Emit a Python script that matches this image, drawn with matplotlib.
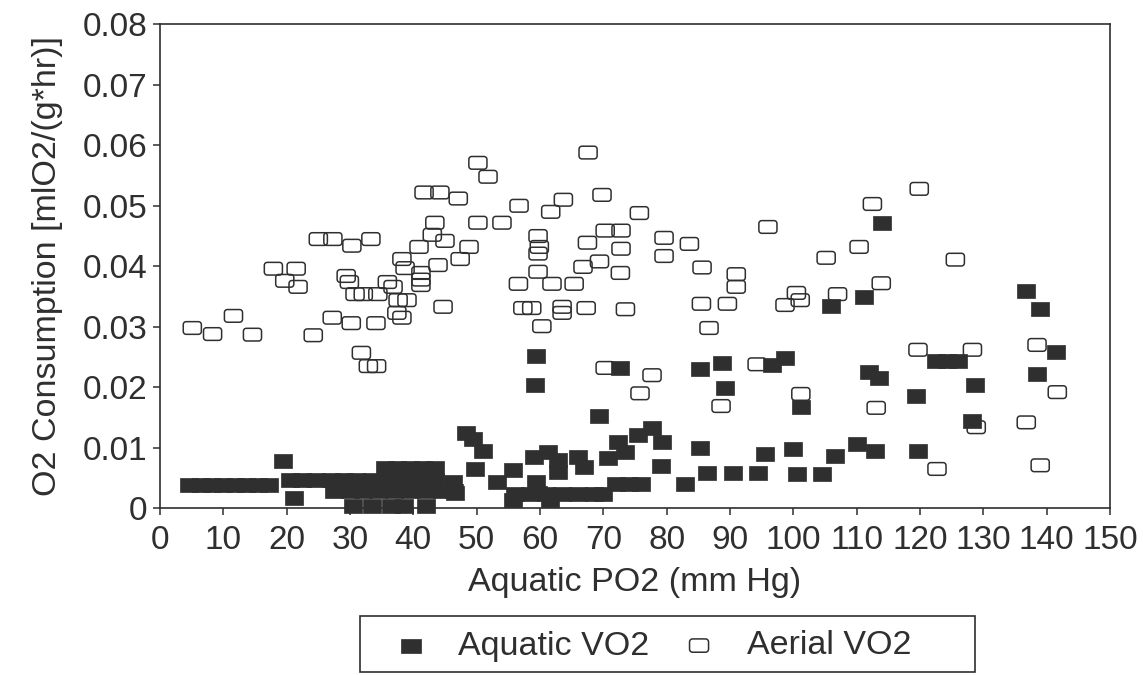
import numpy as np
import matplotlib.pyplot as plt
from matplotlib.path import Path
from matplotlib.patches import Rectangle

plt.rcParams['font.family'] = ['Liberation Sans', 'DejaVu Sans']

# Aquatic VO2 (filled squares)
aquatic_po2 = [4.6, 6.4, 8.2, 10.0, 11.8, 13.6, 15.4, 17.2,
               19.4, 21.2,
               20.5, 22.5, 24.6, 27.0, 29.0, 31.0, 33.5, 36.0, 38.5, 41.0, 43.5,
               35.5, 37.5, 39.5, 41.5, 43.5,
               27.5, 30.0, 32.0, 34.5, 37.0, 39.5, 42.0, 44.5, 46.5,
               30.5, 33.5, 36.5, 38.5, 42.0,
               46.3, 46.6, 48.3, 49.4, 51.0, 49.8,
               53.2, 55.8, 55.8, 59.0, 59.4, 59.7, 61.3, 62.9, 62.9, 61.6,
               56.0, 58.5, 61.0, 63.5, 66.0, 68.5, 70.0,
               66.0, 67.0, 70.8, 72.3, 73.5, 75.5, 77.7, 79.3, 79.1,
               72.0, 74.0, 76.0, 82.9, 85.2, 86.4, 90.5, 94.5, 95.6,
               59.4, 59.2, 72.7, 69.4, 85.3, 88.8, 89.3,
               96.7, 98.7, 101.2, 112.0, 113.6, 119.4, 122.5, 124.3, 126.0,
               128.7, 128.3, 141.5, 138.5, 119.7, 100.0, 100.6, 104.6, 106.6,
               110.1, 112.9,
               114.0, 111.1, 106.0, 136.8, 139.0]
aquatic_vo2 = [0.0039, 0.0039, 0.0039, 0.0039, 0.0039, 0.0039, 0.0039, 0.0039,
               0.0078, 0.0017,
               0.0047, 0.0047, 0.0047, 0.0047, 0.0047, 0.0047, 0.0047, 0.0047, 0.0047, 0.0047, 0.0047,
               0.0066, 0.0066, 0.0066, 0.0066, 0.0066,
               0.0028, 0.0028, 0.0028, 0.0028, 0.0028, 0.0028, 0.0028, 0.0028, 0.0028,
               0.0003, 0.0003, 0.0003, 0.0003, 0.0003,
               0.0043, 0.0025, 0.0124, 0.0114, 0.0094, 0.0065,
               0.0043, 0.0063, 0.0013, 0.0084, 0.0043, 0.0026, 0.0093, 0.0080, 0.0060, 0.0013,
               0.0023, 0.0023, 0.0023, 0.0023, 0.0023, 0.0023, 0.0023,
               0.0085, 0.0068, 0.0083, 0.0109, 0.0093, 0.0121, 0.0132, 0.0110, 0.0070,
               0.0040, 0.0040, 0.0040, 0.0040, 0.0099, 0.0058, 0.0058, 0.0058, 0.0090,
               0.0252, 0.0204, 0.0232, 0.0152, 0.0230, 0.0240, 0.0199,
               0.0237, 0.0248, 0.0167, 0.0225, 0.0215, 0.0185, 0.0243, 0.0243, 0.0243,
               0.0204, 0.0144, 0.0258, 0.0222, 0.0094, 0.0098, 0.0056, 0.0056, 0.0086,
               0.0106, 0.0095,
               0.0472, 0.0350, 0.0335, 0.0359, 0.0329]

# Aerial VO2 (open squares)
aerial_po2 = [5.1, 8.3, 11.6, 14.6, 17.9, 21.5, 19.7, 21.8, 24.2,
              25.0, 27.3, 30.3, 33.3, 27.2, 30.2, 34.1, 31.8, 32.9, 34.2,
              29.4, 29.9, 30.8, 32.1, 34.4, 35.9, 36.8, 37.6, 37.4, 38.2, 39.0,
              38.2, 38.7, 40.9, 41.2, 41.2, 41.2, 43.0, 43.4, 45.0, 43.9, 44.7,
              41.7, 44.2, 47.1, 47.4, 48.8, 50.2, 51.8, 50.2, 54.0, 56.7,
              67.6, 69.8, 63.7, 61.7, 75.7, 59.7, 59.9, 59.7, 67.5, 70.3, 72.8, 72.8,
              69.4, 66.8, 79.6, 79.6, 83.6, 85.6, 91.0, 91.0, 59.7, 56.6, 61.9, 65.4, 72.7,
              57.3, 58.7, 63.5, 63.5, 67.3, 73.5, 60.3, 85.5, 89.6, 86.7,
              96.0, 112.5, 119.9, 110.4, 105.2, 125.6, 113.9, 107.0, 100.5, 101.1, 98.7,
              119.7, 128.3, 138.5, 94.3, 101.2, 113.1, 128.9, 141.7, 136.8, 139.0, 122.7,
              70.3, 77.7, 75.8, 88.6]
aerial_vo2 = [0.0298, 0.0288, 0.0318, 0.0287, 0.0396, 0.0396, 0.0376, 0.0366, 0.0286,
              0.0445, 0.0445, 0.0434, 0.0445, 0.0315, 0.0306, 0.0306, 0.0257, 0.0235, 0.0235,
              0.0384, 0.0374, 0.0354, 0.0354, 0.0354, 0.0374, 0.0366, 0.0344, 0.0323, 0.0315, 0.0344,
              0.0412, 0.0397, 0.0432, 0.0389, 0.0378, 0.0369, 0.0452, 0.0472, 0.0442, 0.0402, 0.0333,
              0.0522, 0.0522, 0.0512, 0.0412, 0.0432, 0.0571, 0.0548, 0.0472, 0.0472, 0.0500,
              0.0588, 0.0518, 0.0510, 0.0490, 0.0488, 0.0450, 0.0432, 0.0421, 0.0439, 0.0459, 0.0459, 0.0429,
              0.0408, 0.0399, 0.0447, 0.0417, 0.0437, 0.0398, 0.0387, 0.0366, 0.0391, 0.0371, 0.0371, 0.0371, 0.0389,
              0.0331, 0.0331, 0.0333, 0.0323, 0.0331, 0.0329, 0.0301, 0.0338, 0.0338, 0.0298,
              0.0465, 0.0503, 0.0528, 0.0432, 0.0414, 0.0411, 0.0372, 0.0354, 0.0356, 0.0344, 0.0336,
              0.0262, 0.0262, 0.0270, 0.0238, 0.0189, 0.0166, 0.0134, 0.0192, 0.0142, 0.0071, 0.0065,
              0.0232, 0.0220, 0.0190, 0.0169]

x_ticks = list(range(0, 151, 10))
y_ticks = [0, 0.01, 0.02, 0.03, 0.04, 0.05, 0.06, 0.07, 0.08]
y_ticklabels = ['0', '0.01', '0.02', '0.03', '0.04', '0.05', '0.06', '0.07', '0.08']

ink = '#2f2f2f'


def rounded_box(w=1.0, h=0.70, r=0.16, n=6):
    # marker shape: rectangle with rounded corners
    pts = []
    corners = [(w/2 - r, h/2 - r, 0), (-w/2 + r, h/2 - r, 90),
               (-w/2 + r, -h/2 + r, 180), (w/2 - r, -h/2 + r, 270)]
    for cx, cy, a0 in corners:
        for t in np.radians(np.linspace(a0, a0 + 90, n)):
            pts.append((cx + r*np.cos(t), cy + r*np.sin(t)))
    pts.append(pts[0])
    return Path(pts, closed=True)


box_filled = Path([(-0.5, -0.36), (0.5, -0.36), (0.5, 0.36), (-0.5, 0.36), (-0.5, -0.36)], closed=True)
box_open = rounded_box()

fig = plt.figure(figsize=(11.43, 6.75), dpi=100)
ax = fig.add_axes([0.140, 0.247, 0.831, 0.717])

ax.scatter(aerial_po2, aerial_vo2, s=170, marker=box_open, facecolors='none',
           edgecolors=ink, linewidths=1.1, clip_on=False, zorder=3, label='Aerial VO2')
ax.scatter(aquatic_po2, aquatic_vo2, s=175, marker=box_filled, facecolors=ink,
           edgecolors=ink, linewidths=0.5, clip_on=False, zorder=4, label='Aquatic VO2')

ax.set_xlim(0, 150)
ax.set_ylim(0, 0.08)
ax.set_xticks(x_ticks)
ax.set_yticks(y_ticks)
ax.set_yticklabels(y_ticklabels)
ax.tick_params(direction='out', length=5, width=1.1, color=ink, labelsize=24,
               labelcolor=ink, pad=4)
ax.tick_params(axis='x', pad=7)
for sp in ax.spines.values():
    sp.set_color(ink)
    sp.set_linewidth(1.2)

ax.set_xlabel('Aquatic PO2 (mm Hg)', fontsize=24.5, color=ink, labelpad=8)
ax.set_ylabel('O2 Consumption [mlO2/(g*hr)]', fontsize=24.5, color=ink, labelpad=14)

# legend below the plot, with a wide box drawn separately
handles, labels = ax.get_legend_handles_labels()
leg = fig.legend(handles[::-1], labels[::-1], loc='center left',
                 bbox_to_anchor=(387/1143, 1 - 646/675), ncol=2, fontsize=24.5,
                 frameon=False, borderpad=0, borderaxespad=0,
                 handlelength=1.4, handletextpad=0.7, columnspacing=0.75,
                 markerscale=1.05)
for t in leg.get_texts():
    t.set_color(ink)
fig.patches.append(Rectangle((360/1143, 1 - 672/675), 615/1143, 56/675,
                             transform=fig.transFigure, fill=False,
                             edgecolor=ink, linewidth=1.2))

fig.savefig('out.png', dpi=100)
